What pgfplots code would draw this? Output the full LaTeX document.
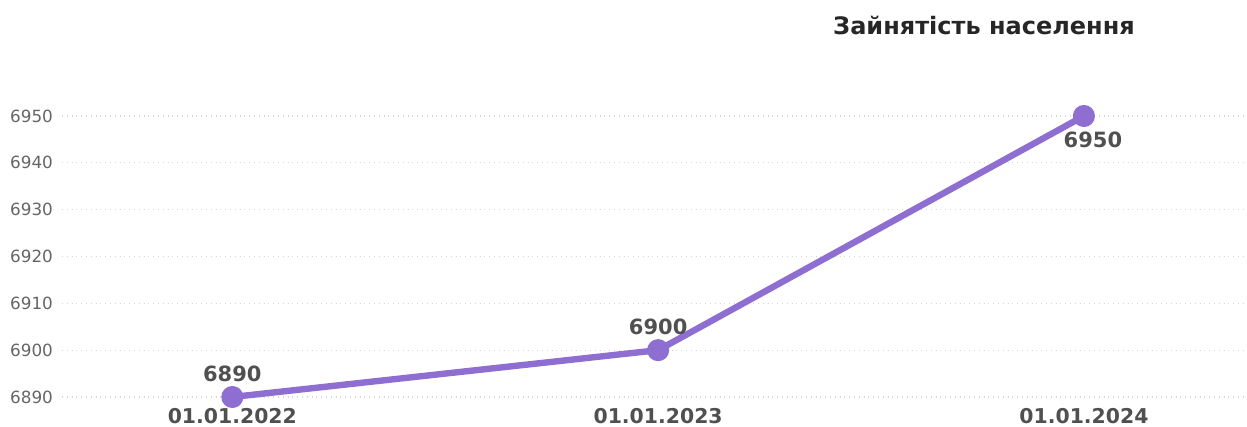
\documentclass[border=0pt]{standalone}
\usepackage{pgfplots}
\pgfplotsset{compat=1.18}
\usepackage{fontspec}
\setmainfont{DejaVu Sans}
\definecolor{lineviolet}{RGB}{142,110,208}
\definecolor{tickgray}{RGB}{102,102,102}
\definecolor{labgray}{RGB}{80,80,80}
\definecolor{gridgray}{RGB}{215,215,215}
\begin{document}
\begin{tikzpicture}
\useasboundingbox (0,0) rectangle (623.5pt,213.5pt);
\begin{axis}[
  at={(31pt,15pt)}, anchor=south west,
  scale only axis, width=592.5pt, height=140.5pt,
  xmin=-0.4, xmax=2.383, ymin=6890, ymax=6950,
  axis line style={draw=none}, tick style={draw=none},
  xtick={0,1,2}, xticklabels={01.01.2022,01.01.2023,01.01.2024},
  ytick={6890,6900,...,6950},
  ymajorgrids, grid style={gridgray, dotted, line width=0.6pt},
  yticklabel style={font=\fontsize{8.4}{10}\selectfont, text=tickgray, xshift=-1pt},
  xticklabel style={font=\fontsize{10.2}{12}\selectfont\bfseries, text=labgray, yshift=-2.3pt},
  /pgf/number format/assume math mode=true,
  /pgf/number format/1000 sep={},
  clip=false,
]
\addplot[lineviolet, line width=3.2pt, line cap=round, line join=round,
  mark=*, mark size=3.9pt, mark options={fill=lineviolet, draw=none},
  nodes near coords, point meta=explicit symbolic,
  visualization depends on={value \thisrow{dx} \as \ldx},
  visualization depends on={value \thisrow{dy} \as \ldy},
  every node near coord/.style={font=\fontsize{10.5}{12}\selectfont\bfseries, text=labgray, anchor=center, xshift=\ldx pt, yshift=\ldy pt},
] table[meta=lbl] {
x y lbl dx dy
0 6890 6890 0 11.5
1 6900 6900 0 11.5
2 6950 6950 4.5 -12
};
\end{axis}
\node[font=\fontsize{12}{14}\selectfont\bfseries, text=black!85] at (492pt,200.5pt) {Зайнятість населення};
\end{tikzpicture}
\end{document}
